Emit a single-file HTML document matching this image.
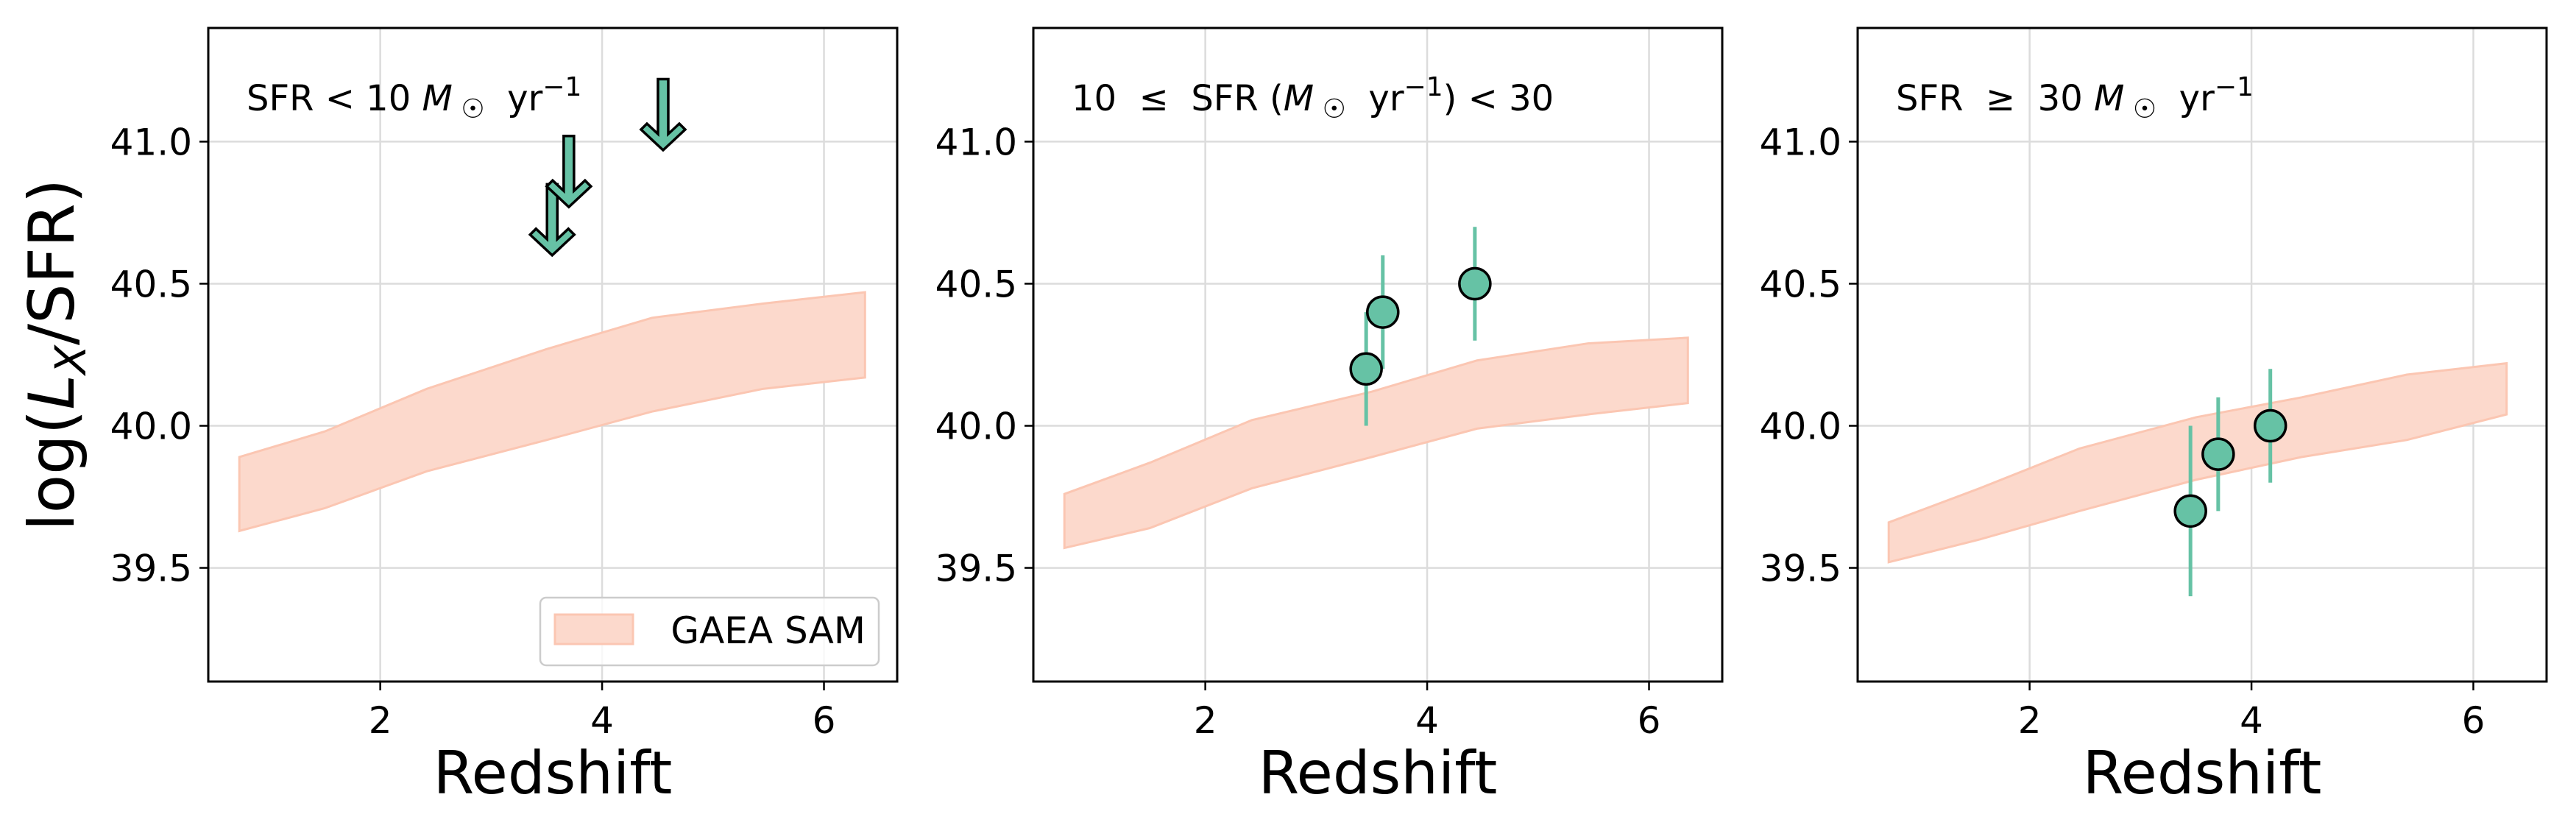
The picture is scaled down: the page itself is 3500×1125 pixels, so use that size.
<!DOCTYPE html>
<html><head><meta charset="utf-8">
<style>
html,body{margin:0;padding:0;background:#fff;}
svg{display:block;font-family:"DejaVu Sans","Liberation Sans",sans-serif;}
.pre{white-space:pre;}
</style></head>
<body>
<svg id="chart" width="3500" height="1125" viewBox="0 0 3500 1125" xmlns="http://www.w3.org/2000/svg"></svg>
<script>
const bandX1 = [0.73, 1.5, 2.42, 3.5, 4.45, 5.45, 6.37];
const bandUpper1 = [39.89, 39.98, 40.13, 40.27, 40.38, 40.43, 40.47];
const bandLower1 = [39.63, 39.71, 39.84, 39.95, 40.05, 40.13, 40.17];
const bandX2 = [0.73, 1.5, 2.42, 3.5, 4.45, 5.45, 6.35];
const bandUpper2 = [39.76, 39.87, 40.02, 40.12, 40.23, 40.29, 40.31];
const bandLower2 = [39.57, 39.64, 39.78, 39.89, 39.99, 40.04, 40.08];
const bandX3 = [0.73, 1.55, 2.45, 3.5, 4.45, 5.4, 6.3];
const bandUpper3 = [39.66, 39.78, 39.92, 40.03, 40.10, 40.18, 40.22];
const bandLower3 = [39.52, 39.60, 39.70, 39.81, 39.89, 39.95, 40.04];
const limitX1 = [3.55, 3.7, 4.55];
const limitY1 = [40.85, 41.02, 41.22];
const ptX2 = [3.45, 3.6, 4.43];
const ptY2 = [40.2, 40.4, 40.5];
const ptErr2 = [0.2, 0.2, 0.2];
const ptX3 = [3.45, 3.7, 4.17];
const ptY3 = [39.7, 39.9, 40.0];
const ptErr3 = [0.3, 0.2, 0.2];
const xTicks = [2, 4, 6];
const yTicks = [39.5, 40.0, 40.5, 41.0];
const yTickLabels = ["39.5", "40.0", "40.5", "41.0"];
const titles = ["SFR &lt; 10 <tspan font-style='italic'>M</tspan><tspan font-size='36' dy='10'> ☉</tspan><tspan dy='-10'>  yr</tspan><tspan font-size='36' dy='-20'>−1</tspan>",
 "10  ≤  SFR (<tspan font-style='italic'>M</tspan><tspan font-size='36' dy='10'> ☉</tspan><tspan dy='-10'>  yr</tspan><tspan font-size='36' dy='-20'>−1</tspan><tspan dy='20'>) &lt; 30</tspan>",
 "SFR  ≥  30 <tspan font-style='italic'>M</tspan><tspan font-size='36' dy='10'> ☉</tspan><tspan dy='-10'>  yr</tspan><tspan font-size='36' dy='-20'>−1</tspan>"];

const NS = "http://www.w3.org/2000/svg";
const svg = document.getElementById('chart');
const panelsLeft = [283, 1404, 2524];
const PW = 936, TOP = 38, BOT = 926;
const XMIN = 0.45, XMAX = 6.66, YMIN = 39.1, YMAX = 41.4;
function mk(tag, attrs, parent){const e=document.createElementNS(NS,tag);for(const k in attrs)e.setAttribute(k,attrs[k]);(parent||svg).appendChild(e);return e;}

const bands = [[bandX1,bandUpper1,bandLower1],[bandX2,bandUpper2,bandLower2],[bandX3,bandUpper3,bandLower3]];

panelsLeft.forEach((L, p) => {
  const sx = v => L + (v - XMIN) / (XMAX - XMIN) * PW;
  const sy = v => BOT - (v - YMIN) / (YMAX - YMIN) * (BOT - TOP);
  const g = mk('g', {});
  
  
  xTicks.forEach(t => {
    const l = mk('line', {x1:sx(t), x2:sx(t), y1:TOP, y2:BOT, stroke:'#dcdcdc', 'stroke-width':2.5}, g);
    
    
  });
  yTicks.forEach(t => {
    const l = mk('line', {x1:L, x2:L+PW, y1:sy(t), y2:sy(t), stroke:'#dcdcdc', 'stroke-width':2.5}, g);
    
    
  });
  const [bx, bu, bl] = bands[p];
  let pts = bx.map((x,i)=>sx(x)+','+sy(bu[i]));
  for (let i = bx.length-1; i >= 0; i--) pts.push(sx(bx[i])+','+sy(bl[i]));
  const poly = mk('polygon', {points: pts.join(' '), fill:'#fcd9cc', stroke:'#fbc6b2', 'stroke-width':3}, g);
  
  
  if (p === 0) {
    limitX1.forEach((x,i) => {
      const cx = sx(x), yt = sy(limitY1[i]), yb = sy(limitY1[i] - 0.25);
      const w = 7, hw = 30;
      const d = `M${cx-w},${yt} L${cx+w},${yt} L${cx+w},${yb-22} L${cx+hw-8},${yb-36} L${cx+hw},${yb-28} L${cx},${yb} L${cx-hw},${yb-28} L${cx-hw+8},${yb-36} L${cx-w},${yb-22} Z`;
      const a = mk('path', {d, fill:'#66c2a5', stroke:'#000', 'stroke-width':3.5, 'stroke-linejoin':'miter'}, g);
      
      
    });
  } else {
    const X = p===1?ptX2:ptX3, Y = p===1?ptY2:ptY3, E = p===1?ptErr2:ptErr3;
    X.forEach((x,i) => {
      const e = mk('line', {x1:sx(x), x2:sx(x), y1:sy(Y[i]-E[i]), y2:sy(Y[i]+E[i]), stroke:'#66c2a5', 'stroke-width':5}, g);
      
      
    });
    X.forEach((x,i) => {
      const c = mk('circle', {cx:sx(x), cy:sy(Y[i]), r:21, fill:'#66c2a5', stroke:'#000', 'stroke-width':3.5}, g);
      
      
    });
  }
  const fr = mk('rect', {x:L, y:TOP, width:PW, height:BOT-TOP, fill:'none', stroke:'#000', 'stroke-width':3}, g);
  
  
  xTicks.forEach(t => {
    const tl = mk('line', {x1:sx(t), x2:sx(t), y1:BOT, y2:BOT+12, stroke:'#000', 'stroke-width':2.5}, g);
    
    
    const tx = mk('text', {x:sx(t), y:BOT+70, 'font-size':50, 'text-anchor':'middle', fill:'#000'}, g);
    tx.textContent = t;
    
    
  });
  yTicks.forEach((t,i) => {
    const tl = mk('line', {x1:L-12, x2:L, y1:sy(t), y2:sy(t), stroke:'#000', 'stroke-width':2.5}, g);
    
    
    const tx = mk('text', {x:L-22, y:sy(t)+18, 'font-size':50, 'text-anchor':'end', fill:'#000'}, g);
    tx.textContent = yTickLabels[i];
    
    
  });
  const xl = mk('text', {x:L+PW/2, y:1078, 'font-size':80, 'text-anchor':'middle', fill:'#000'}, g);
  xl.textContent = 'Redshift';
  
  
  const tt = mk('text', {x:L+52, y:150, 'font-size':48, fill:'#000', 'class':'pre'}, g);
  tt.innerHTML = titles[p];
  
  
});

const yl = mk('text', {x:0, y:0, 'font-size':86, 'text-anchor':'middle', fill:'#000', transform:'translate(100,482) rotate(-90)'});
yl.innerHTML = "log(<tspan font-style='italic'>L</tspan><tspan font-style='italic' font-size='58' dy='16'>X</tspan><tspan dy='-16'>/SFR)</tspan>";



const lg = mk('g', {});


const lbox = mk('rect', {x:734, y:812, width:460, height:92, rx:8, fill:'#fff', 'fill-opacity':0.8, stroke:'#ccc', 'stroke-width':2.5}, lg);


const lsw = mk('rect', {x:754, y:835, width:106, height:40, fill:'#fcd9cc', stroke:'#fbc6b2', 'stroke-width':3}, lg);


const lt = mk('text', {x:1176, y:874, 'font-size':50, fill:'#000', 'text-anchor':'end'}, lg);
lt.textContent = 'GAEA SAM';


</script>
</body></html>
